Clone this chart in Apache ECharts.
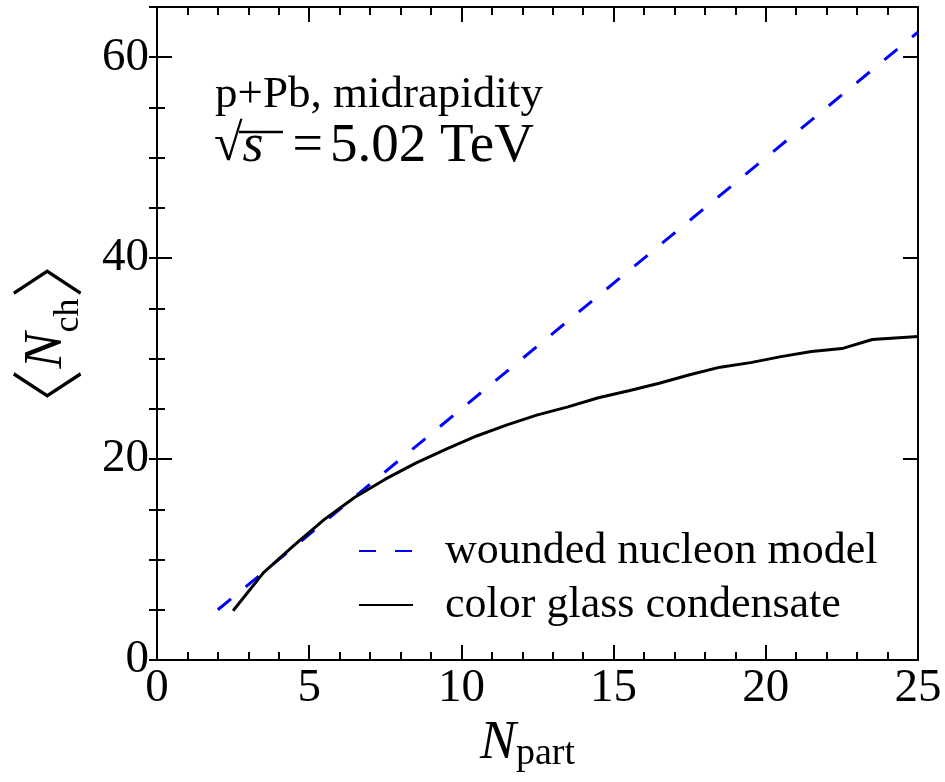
<!DOCTYPE html>
<html>
<head>
<meta charset="utf-8">
<script src="https://cdn.jsdelivr.net/npm/echarts@6/dist/echarts.min.js"></script>
<style>
html,body{margin:0;padding:0;background:#fff;}
#chart{width:945px;height:782px;}
</style>
</head>
<body>
<div id="chart"></div>
<script>
// ---- data ----
var woundedX = [2, 25];
var woundedY = [5, 62.5];
var cgcX = [2.5, 3.5, 4.5, 5.5, 6.5, 7.5, 8.5, 9.5, 10.5, 11.5, 12.5, 13.5, 14.5, 15.5, 16.5, 17.5, 18.5, 19.5, 20.5, 21.5, 22.5, 23.5, 24.5, 25];
var cgcY = [4.9, 8.7, 11.4, 14.0, 16.2, 18.0, 19.6, 21.0, 22.3, 23.4, 24.4, 25.2, 26.1, 26.8, 27.55, 28.4, 29.15, 29.6, 30.2, 30.7, 31.0, 31.9, 32.1, 32.2];
var seriesNames = ['wounded nucleon model', 'color glass condensate'];
var xTicks = [0, 5, 10, 15, 20, 25];
var yTicks = [0, 20, 40, 60];
var annotLine1 = 'p+Pb, midrapidity';
var annotLine2 = '5.02 TeV';

function pairs(xs, ys) { return xs.map(function (x, i) { return [x, ys[i]]; }); }

var FONT = 'Liberation Serif';
var chart = echarts.init(document.getElementById('chart'));

var baseAxisLine = { show: true, onZero: false, lineStyle: { color: '#000', width: 2 } };

var xCommon = {
  type: 'value', min: xTicks[0], max: xTicks[xTicks.length - 1], interval: 5,
  axisLine: baseAxisLine,
  axisTick: { show: true, inside: true, length: 15, lineStyle: { color: '#000', width: 2 } },
  minorTick: { show: true, splitNumber: 5, length: 8, lineStyle: { color: '#000', width: 2 } },
  splitLine: { show: false }, minorSplitLine: { show: false }
};
function yMajor(pos, labels) {
  return {
    type: 'value', position: pos, min: yTicks[0], max: 65, interval: 20,
    axisLine: baseAxisLine,
    axisTick: { show: true, inside: true, length: 15, lineStyle: { color: '#000', width: 2 } },
    axisLabel: labels ? { show: true, showMaxLabel: false, margin: 8, fontFamily: FONT, fontSize: 47, color: '#000' } : { show: false },
    splitLine: { show: false }
  };
}
function yMinor(pos) {
  return {
    type: 'value', position: pos, min: yTicks[0], max: 65, interval: 5,
    axisLine: { show: false },
    axisTick: { show: true, inside: true, length: 8, lineStyle: { color: '#000', width: 2 } },
    axisLabel: { show: false },
    splitLine: { show: false }
  };
}

var yMain = yMajor('left', true);
yMain.name = '{b|\u3008}{n|N}{s|ch}{b|\u3009}';
yMain.nameLocation = 'middle';
yMain.nameRotate = 90;
yMain.nameGap = 70;
yMain.nameTextStyle = {
  fontFamily: FONT, color: '#000',
  rich: {
    b: { fontFamily: 'Noto Sans CJK JP', fontWeight: 300, fontSize: 74, lineHeight: 80, verticalAlign: 'middle', color: '#000' },
    n: { fontFamily: FONT, fontStyle: 'italic', fontSize: 54, lineHeight: 54, verticalAlign: 'middle', color: '#000' },
    s: { fontFamily: FONT, fontSize: 36, lineHeight: 56, verticalAlign: 'bottom', color: '#000' }
  }
};

var option = {
  backgroundColor: '#fff',
  animation: false,
  grid: { left: 157, right: 27, top: 7, bottom: 122, containLabel: false },
  xAxis: [
    Object.assign({}, xCommon, {
      position: 'bottom',
      axisLabel: { show: true, margin: 5, fontFamily: FONT, fontSize: 47, color: '#000' },
      name: '{n|N}{s|part}',
      nameLocation: 'middle',
      nameGap: 50,
      nameTextStyle: {
        fontFamily: FONT, color: '#000', padding: [0, 20, 0, 0],
        rich: {
          n: { fontFamily: FONT, fontStyle: 'italic', fontSize: 54, lineHeight: 56, verticalAlign: 'top', color: '#000' },
          s: { fontFamily: FONT, fontSize: 38, lineHeight: 36, verticalAlign: 'bottom', color: '#000' }
        }
      }
    }),
    Object.assign({}, xCommon, { position: 'top', axisLabel: { show: false } })
  ],
  yAxis: [yMain, yMinor('left'), yMajor('right', false), yMinor('right')],
  legend: {
    show: true, orient: 'vertical', left: 353, top: 524,
    itemWidth: 54, itemHeight: 2, itemGap: 10,
    itemStyle: { opacity: 0 },
    textStyle: { fontFamily: FONT, fontSize: 44, lineHeight: 44, color: '#000', padding: [0, 0, 0, 27] },
    data: seriesNames
  },
  series: [
    {
      name: seriesNames[0], type: 'line', xAxisIndex: 0, yAxisIndex: 0,
      data: pairs(woundedX, woundedY), showSymbol: false, symbol: 'none',
      lineStyle: { color: '#0000ff', width: 3, type: [17, 19] },
      itemStyle: { color: '#0000ff' }, z: 3
    },
    {
      name: seriesNames[1], type: 'line', xAxisIndex: 0, yAxisIndex: 0,
      data: pairs(cgcX, cgcY), showSymbol: false, symbol: 'none',
      lineStyle: { color: '#000', width: 3 },
      itemStyle: { color: '#000' }, z: 4
    }
  ],
  graphic: [
    { type: 'text', left: 215, top: 73, style: { text: annotLine1, font: '45px "Liberation Serif"', fill: '#000' } },
    { type: 'text', left: 214, top: 119, style: {
        text: '{r|\u221A}{s|s}{e|=}{t|' + annotLine2 + '}',
        rich: {
          r: { fontFamily: FONT, fontSize: 52, lineHeight: 60, verticalAlign: 'middle', fill: '#000' },
          s: { fontFamily: FONT, fontStyle: 'italic', fontSize: 54, lineHeight: 60, verticalAlign: 'middle', fill: '#000' },
          e: { fontFamily: FONT, fontSize: 54, lineHeight: 60, verticalAlign: 'middle', fill: '#000', padding: [0, 7, 0, 29] },
          t: { fontFamily: FONT, fontSize: 55, lineHeight: 60, verticalAlign: 'middle', fill: '#000' }
        }
    } },
    { type: 'line', shape: { x1: 239, y1: 132, x2: 283, y2: 132 }, style: { stroke: '#000', lineWidth: 2.5 } }
  ]
};
chart.setOption(option);
</script>
</body>
</html>
